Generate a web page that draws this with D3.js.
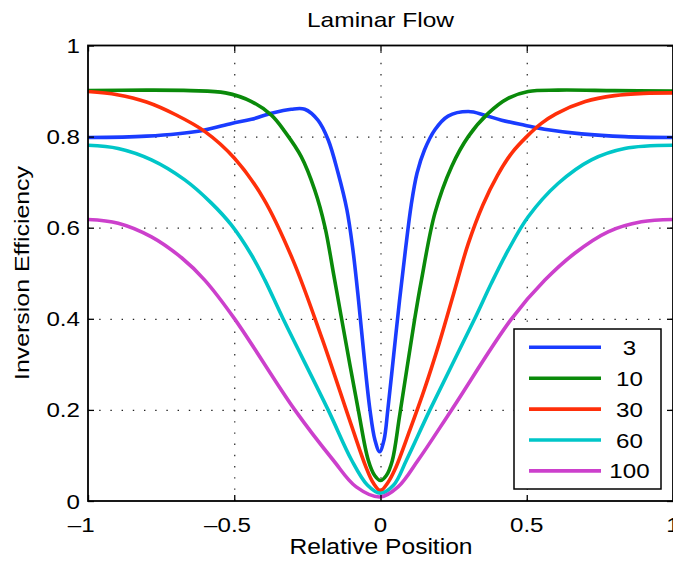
<!doctype html>
<html lang="en">
<head>
<meta charset="UTF-8">
<title>Laminar Flow</title>
<style>
  body { margin: 0; background: #fff; }
  text { font-family: "Liberation Sans", Arial, Helvetica, sans-serif; fill: #000; }
</style>
</head>
<body>
<div class="container"></div>

<script src="https://d3js.org/d3.v7.min.js"></script>

<script>
  const SVG_WIDTH = 673;
  const SVG_HEIGHT = 567;
  const LEFT = 88, RIGHT = 673, TOP = 45.5, BOTTOM = 501;
  const STRETCH = 1.15; // text in the reference is a bit wide

  const labels = ['3', '10', '30', '60', '100'];
  const colors = ['#1a3cff', '#0a8a0a', '#ff2f0a', '#00c6c8', '#cc40cc'];
  const xTicks = [-1, -0.5, 0, 0.5, 1];
  const yTicks = [0, 0.2, 0.4, 0.6, 0.8, 1];

  // [relative position, inversion efficiency]
  const flow3 = [[-1, 0.798], [-0.8, 0.801], [-0.612, 0.813], [-0.509, 0.829], [-0.441, 0.838],
    [-0.373, 0.851], [-0.305, 0.86], [-0.259, 0.86], [-0.214, 0.836], [-0.179, 0.793],
    [-0.145, 0.72], [-0.115, 0.64], [-0.095, 0.555], [-0.075, 0.44], [-0.055, 0.31],
    [-0.036, 0.2], [-0.019, 0.134], [-0.003, 0.108], [0.012, 0.134], [0.025, 0.2],
    [0.045, 0.32], [0.065, 0.44], [0.085, 0.55], [0.105, 0.65], [0.125, 0.72],
    [0.15, 0.77], [0.186, 0.815], [0.231, 0.845], [0.3, 0.855], [0.357, 0.847],
    [0.414, 0.836], [0.493, 0.825], [0.573, 0.815], [0.687, 0.806], [0.835, 0.8], [1, 0.798]];
  const flow10 = [[-1, 0.901], [-0.8, 0.902], [-0.65, 0.901], [-0.53, 0.896], [-0.441, 0.877],
    [-0.373, 0.847], [-0.327, 0.811], [-0.271, 0.756], [-0.225, 0.683], [-0.19, 0.602],
    [-0.16, 0.497], [-0.133, 0.4], [-0.076, 0.2], [-0.042, 0.09], [-0.02, 0.056], [0, 0.045],
    [0.02, 0.056], [0.04, 0.088], [0.066, 0.19], [0.117, 0.4], [0.14, 0.485],
    [0.186, 0.632], [0.243, 0.734], [0.3, 0.8], [0.368, 0.851], [0.436, 0.884],
    [0.505, 0.899], [0.607, 0.902], [0.8, 0.901], [1, 0.9]];
  const flow30 = [[-1, 0.899], [-0.9, 0.892], [-0.8, 0.876], [-0.7, 0.848], [-0.6, 0.811],
    [-0.5, 0.753], [-0.4, 0.664], [-0.3, 0.53], [-0.2, 0.357], [-0.1, 0.167],
    [-0.05, 0.075], [-0.025, 0.04], [0, 0.023], [0.025, 0.04], [0.05, 0.07],
    [0.1, 0.155], [0.15, 0.245], [0.2, 0.345], [0.25, 0.455], [0.3, 0.565],
    [0.35, 0.65], [0.4, 0.715], [0.45, 0.765], [0.5, 0.8], [0.55, 0.829],
    [0.6, 0.85], [0.7, 0.877], [0.8, 0.89], [0.9, 0.895], [1, 0.896]];
  const flow60 = [[-1, 0.781], [-0.897, 0.774], [-0.783, 0.749], [-0.669, 0.705], [-0.578, 0.654],
    [-0.51, 0.606], [-0.441, 0.54], [-0.396, 0.486], [-0.333, 0.4], [-0.179, 0.2],
    [-0.099, 0.09], [-0.045, 0.035], [0, 0.017], [0.045, 0.035], [0.089, 0.09],
    [0.169, 0.2], [0.322, 0.4], [0.379, 0.478], [0.436, 0.55], [0.505, 0.624],
    [0.607, 0.697], [0.721, 0.749], [0.835, 0.774], [1, 0.781]];
  const flow100 = [[-1, 0.618], [-0.897, 0.61], [-0.783, 0.58], [-0.68, 0.534], [-0.601, 0.485],
    [-0.5, 0.401], [-0.293, 0.2], [-0.162, 0.09], [-0.083, 0.031], [0, 0.009],
    [0.06, 0.031], [0.129, 0.09], [0.243, 0.2], [0.448, 0.4], [0.562, 0.485],
    [0.664, 0.544], [0.778, 0.591], [0.892, 0.613], [1, 0.618]];
  const allFlows = [flow3, flow10, flow30, flow60, flow100];

  const svg = d3.select('.container')
    .append('svg')
    .attr('width', SVG_WIDTH)
    .attr('height', SVG_HEIGHT)

  const x = d3.scaleLinear().domain([-1, 1]).range([LEFT, RIGHT]);
  const y = d3.scaleLinear().domain([0, 1]).range([BOTTOM, TOP]);

  // dotted grid, interior ticks only
  const gridX = svg.append('g')
    .attr('transform', `translate(0, ${BOTTOM})`)
    .call(d3.axisBottom(x).tickValues(xTicks.slice(1, -1)).tickSize(-(BOTTOM - TOP)).tickFormat(''));
  const gridY = svg.append('g')
    .attr('transform', `translate(${LEFT}, 0)`)
    .call(d3.axisLeft(y).tickValues(yTicks.slice(1, -1)).tickSize(-(RIGHT - LEFT)).tickFormat(''));
  svg.selectAll('.domain').remove();
  [gridX, gridY].forEach(g => g.selectAll('line')
    .attr('stroke', '#222')
    .attr('stroke-width', 1.2)
    .attr('stroke-dasharray', '1.4,9.8'));

  // curves
  const line = d3.line()
    .x(d => x(d[0]))
    .y(d => y(d[1]))
    .curve(d3.curveCatmullRom.alpha(0.5));

  svg.append('g').selectAll('path')
    .data(allFlows)
    .enter().append('path')
    .attr('d', line)
    .attr('fill', 'none')
    .attr('stroke', (d, i) => colors[i])
    .attr('stroke-width', 3.6)
    .attr('stroke-linejoin', 'round');

  // axes box with inward ticks
  const axes = [
    svg.append('g').attr('transform', `translate(0, ${BOTTOM})`).call(d3.axisTop(x).tickValues(xTicks).tickSize(6).tickFormat('')),
    svg.append('g').attr('transform', `translate(0, ${TOP})`).call(d3.axisBottom(x).tickValues(xTicks).tickSize(6).tickFormat('')),
    svg.append('g').attr('transform', `translate(${LEFT}, 0)`).call(d3.axisRight(y).tickValues(yTicks).tickSize(6).tickFormat('')),
    svg.append('g').attr('transform', `translate(${RIGHT}, 0)`).call(d3.axisLeft(y).tickValues(yTicks).tickSize(6).tickFormat(''))
  ];
  axes.forEach(g => {
    g.select('.domain').remove();
    g.selectAll('line').attr('stroke', '#000').attr('stroke-width', 1.3);
  });
  svg.append('rect')
    .attr('x', LEFT).attr('y', TOP)
    .attr('width', RIGHT - LEFT).attr('height', BOTTOM - TOP)
    .attr('fill', 'none').attr('stroke', '#000').attr('stroke-width', 1.8);

  function wideText(parent, px, py, str, anchor) {
    return parent.append('text')
      .attr('transform', `translate(${px}, ${py}) scale(${STRETCH}, 1)`)
      .attr('text-anchor', anchor)
      .style('font-size', '21px')
      .text(str);
  }

  // y tick labels
  yTicks.forEach(v => {
    wideText(svg, 80, y(v) + 7.5, v === 0 || v === 1 ? String(v) : v.toFixed(1), 'end');
  });

  // x tick labels: number centred on tick, minus sign hanging to the left
  xTicks.forEach(v => {
    const num = String(Math.abs(v));
    const t = wideText(svg, x(v), 531.5, num, 'middle');
    if (v < 0) {
      const half = t.node().getComputedTextLength() * STRETCH / 2;
      wideText(svg, x(v) - half, 531.5, '\u2013', 'end');
    }
  });

  // titles
  svg.append('text')
    .attr('x', 380.5).attr('y', 26.5)
    .attr('text-anchor', 'middle')
    .attr('textLength', 147).attr('lengthAdjust', 'spacingAndGlyphs')
    .style('font-size', '21px')
    .text('Laminar Flow');
  svg.append('text')
    .attr('x', 381).attr('y', 553.5)
    .attr('text-anchor', 'middle')
    .attr('textLength', 183).attr('lengthAdjust', 'spacingAndGlyphs')
    .style('font-size', '22px')
    .text('Relative Position');
  svg.append('text')
    .attr('transform', `translate(28.5, 273) rotate(-90)`)
    .attr('text-anchor', 'middle')
    .attr('textLength', 214).attr('lengthAdjust', 'spacingAndGlyphs')
    .style('font-size', '21px')
    .text('Inversion Efficiency');

  // legend
  const legend = svg.append('g');
  legend.append('rect')
    .attr('x', 514).attr('y', 329)
    .attr('width', 147).attr('height', 160)
    .attr('fill', '#fff').attr('stroke', '#000').attr('stroke-width', 1.5);
  labels.forEach((lab, i) => {
    const ry = 347.3 + i * 30.9;
    legend.append('line')
      .attr('x1', 529).attr('x2', 601)
      .attr('y1', ry).attr('y2', ry)
      .attr('stroke', colors[i]).attr('stroke-width', 3.6);
    wideText(legend, 629.5, ry + 7.5, lab, 'middle');
  });
</script>
</body>
</html>
